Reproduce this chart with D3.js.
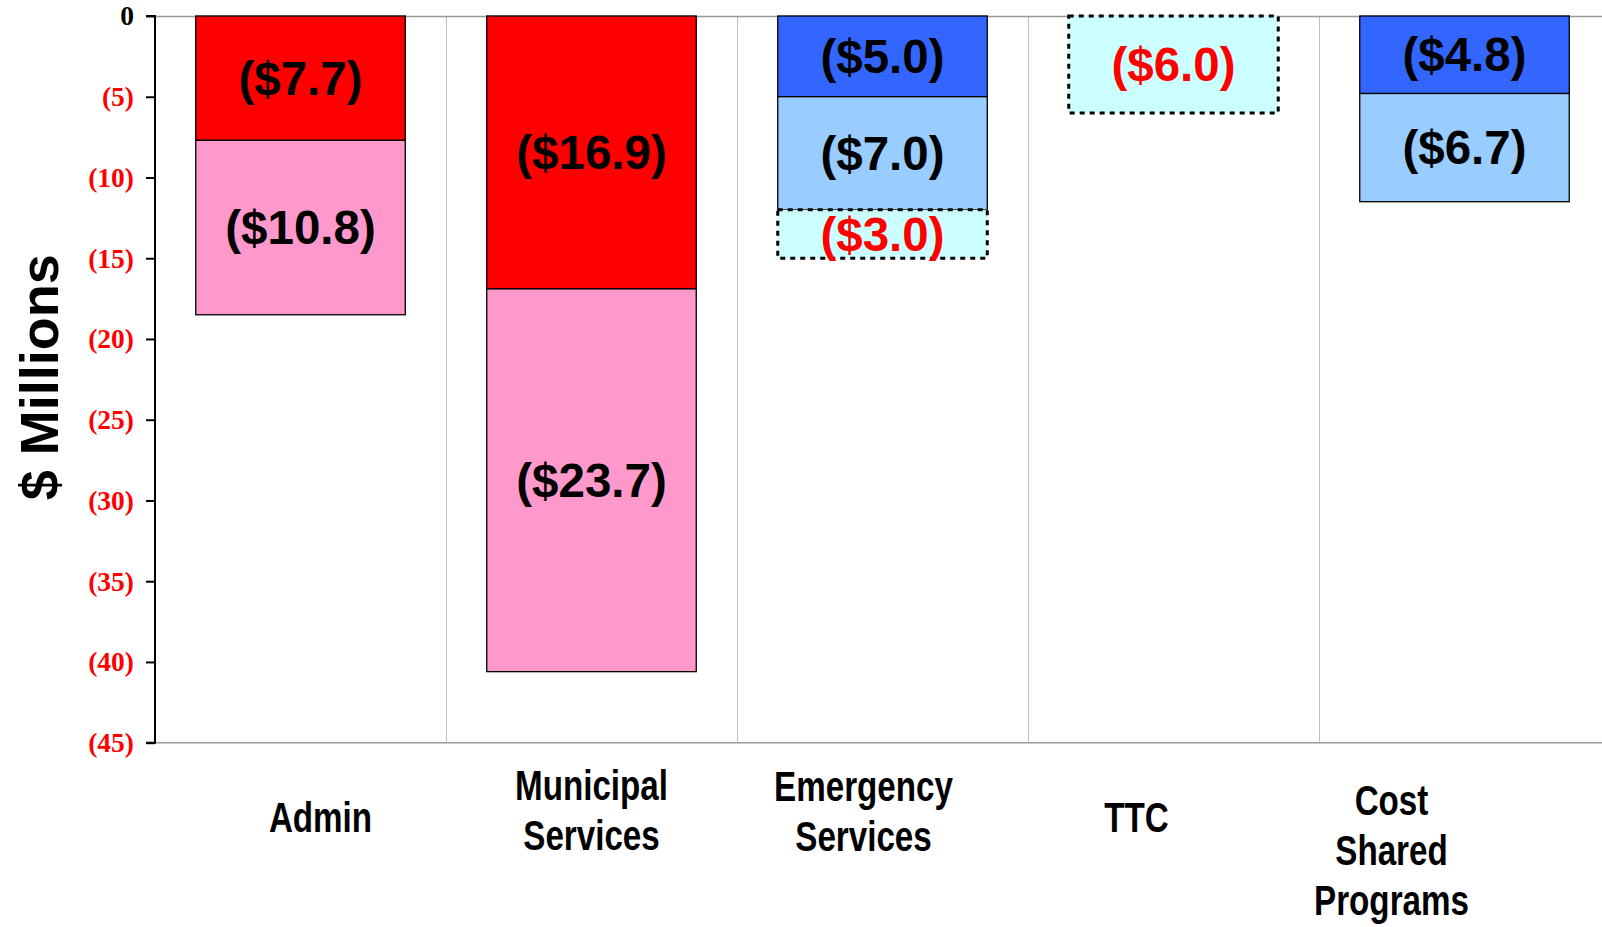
<!DOCTYPE html>
<html>
<head>
<meta charset="utf-8">
<script src="https://cdn.jsdelivr.net/npm/d3@7"></script>
<style>
  html, body { margin: 0; padding: 0; background: #ffffff; }
  svg { display: block; }
</style>
</head>
<body>
<svg id="chart" width="1602" height="927"></svg>
<script>
// ---------- data ----------
const categories = ["Admin", "Municipal Services", "Emergency Services", "TTC", "Cost Shared Programs"];
const categoryLines = [["Admin"], ["Municipal", "Services"], ["Emergency", "Services"], ["TTC"], ["Cost", "Shared", "Programs"]];
const seriesKeys = ["red", "pink", "blue", "lightblue", "cyan"];
const redValues       = [7.7, 16.9, 0, 0, 0];
const pinkValues      = [10.8, 23.7, 0, 0, 0];
const blueValues      = [0, 0, 5.0, 0, 4.8];
const lightblueValues = [0, 0, 7.0, 0, 6.7];
const cyanValues      = [0, 0, 3.0, 6.0, 0];
const yTickValues = [0, 5, 10, 15, 20, 25, 30, 35, 40, 45];
const yTitle = "$ Millions";

// ---------- style / layout ----------
const seriesStyle = {
  red:       { fill: "#FF0000", stroke: "#000", dash: null, text: "#000" },
  pink:      { fill: "#FF99CC", stroke: "#000", dash: null, text: "#000" },
  blue:      { fill: "#3366FF", stroke: "#000", dash: null, text: "#000" },
  lightblue: { fill: "#99CCFF", stroke: "#000", dash: null, text: "#000" },
  cyan:      { fill: "#CCFFFF", stroke: "#000", dash: "5,5", text: "#FF0000" }
};
// label placement tweaks (category label boxes in the original are not exactly centred)
const labelLayout = [
  { dx: 20,  y0: 832 },
  { dx: 0,   y0: 800 },
  { dx: -19, y0: 801 },
  { dx: -37, y0: 832 },
  { dx: -73, y0: 815 }
];

const table = categories.map((c, i) => ({
  category: c,
  red: redValues[i], pink: pinkValues[i], blue: blueValues[i],
  lightblue: lightblueValues[i], cyan: cyanValues[i]
}));

const svg = d3.select("#chart");
const pLeft = 155, pRight = 1610, pTop = 16, pBottom = 742.7;

const x = d3.scaleBand().domain(categories).range([pLeft, pRight])
  .paddingInner(0.28).paddingOuter(0.14);
const y = d3.scaleLinear().domain([0, 45]).range([pTop, pBottom]);

// gridlines / frame
const step = x.step();
const gridG = svg.append("g");
categories.slice(1).forEach(c => {
  const gx = Math.round(x(c) - step * x.paddingInner() / 2) + 0.5;
  gridG.append("line").attr("x1", gx).attr("x2", gx).attr("y1", pTop).attr("y2", pBottom)
    .attr("stroke", "#c0c0c0").attr("stroke-width", 1);
});
gridG.append("line").attr("x1", pLeft).attr("x2", 1602).attr("y1", pTop + 0.5).attr("y2", pTop + 0.5)
  .attr("stroke", "#999").attr("stroke-width", 1.5);
gridG.append("line").attr("x1", pLeft).attr("x2", 1602).attr("y1", pBottom).attr("y2", pBottom)
  .attr("stroke", "#999").attr("stroke-width", 1.5);

// stacked bars
const stack = d3.stack().keys(seriesKeys);
const layers = stack(table);

const barG = svg.append("g");
layers.forEach(layer => {
  const st = seriesStyle[layer.key];
  layer.forEach(d => {
    const v = d[1] - d[0];
    if (v <= 0) return;
    barG.append("rect")
      .attr("x", x(d.data.category))
      .attr("y", y(d[0]))
      .attr("width", x.bandwidth())
      .attr("height", y(d[1]) - y(d[0]))
      .attr("fill", st.fill)
      .attr("stroke", st.stroke)
      .attr("stroke-width", st.dash ? 3 : 1.3)
      .attr("stroke-dasharray", st.dash);
  });
});
layers.forEach(layer => {
  const st = seriesStyle[layer.key];
  layer.forEach(d => {
    const v = d[1] - d[0];
    if (v <= 0) return;
    barG.append("text")
      .attr("x", x(d.data.category) + x.bandwidth() / 2)
      .attr("y", (y(d[0]) + y(d[1])) / 2)
      .attr("text-anchor", "middle")
      .attr("dominant-baseline", "central")
      .attr("font-family", "'Liberation Sans', Arial, sans-serif")
      .attr("font-weight", "bold")
      .attr("font-size", 47.5)
      .attr("fill", st.text)
      .text("($" + v.toFixed(1) + ")");
  });
});

// y axis
const yAxis = d3.axisLeft(y).tickValues(yTickValues).tickSize(9).tickPadding(12)
  .tickFormat(v => v === 0 ? "0" : "(" + v + ")");
const yG = svg.append("g").attr("transform", `translate(${pLeft},0)`).call(yAxis);
yG.select(".domain").attr("stroke", "#000").attr("stroke-width", 2).attr("d", `M-9,${pTop}H0V${pBottom}H-9`);
yG.selectAll(".tick line").attr("stroke", "#000").attr("stroke-width", 2);
yG.selectAll(".tick text")
  .attr("font-family", "'Liberation Serif', 'Times New Roman', serif")
  .attr("font-weight", "bold")
  .attr("font-size", 27.5)
  .attr("fill", v => v === 0 ? "#000" : "#FF0000");

// y title
svg.append("text")
  .attr("transform", `translate(58,${(pTop + pBottom) / 2 - 2}) rotate(-90)`)
  .attr("text-anchor", "middle")
  .attr("font-family", "'Liberation Sans', Arial, sans-serif")
  .attr("font-weight", "bold")
  .attr("font-size", 54)
  .attr("fill", "#000")
  .text(yTitle);

// category labels (narrow bold face emulated by horizontal compression)
const catG = svg.append("g");
categories.forEach((c, i) => {
  const cx = x(c) + x.bandwidth() / 2 + labelLayout[i].dx;
  const t = catG.append("text")
    .attr("transform", `translate(${cx},0) scale(0.79,1)`)
    .attr("text-anchor", "middle")
    .attr("font-family", "'Liberation Sans', Arial, sans-serif")
    .attr("font-weight", "bold")
    .attr("font-size", 42)
    .attr("fill", "#000");
  categoryLines[i].forEach((ln, j) => {
    t.append("tspan").attr("x", 0).attr("y", labelLayout[i].y0 + j * 50).text(ln);
  });
});
</script>
</body>
</html>
